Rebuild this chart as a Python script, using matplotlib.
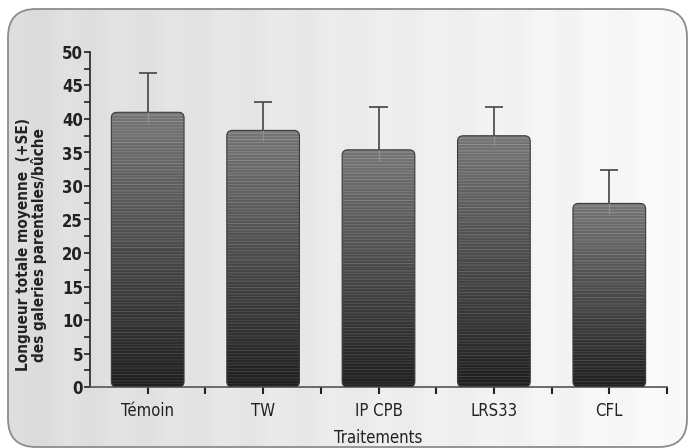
import numpy as np
import matplotlib
matplotlib.use("Agg")
from matplotlib import pyplot as plt
from matplotlib import font_manager
from matplotlib.patches import FancyBboxPatch

# data
traitements = ['Témoin', 'TW', 'IP CPB', 'LRS33', 'CFL']
moyennes = [41.0, 38.3, 35.4, 37.5, 27.4]
se = [5.9, 4.3, 6.4, 4.3, 5.0]

# look for a condensed face (e.g. DejaVu Sans Condensed)
narrow = None
for f in font_manager.fontManager.ttflist:
    if str(f.stretch) == 'condensed' and f.style == 'normal':
        narrow = f.name
        break
if narrow is not None:
    plt.rcParams['font.family'] = [narrow, 'DejaVu Sans']
    plt.rcParams['font.stretch'] = 'condensed'
    big, lab = 12, 11
else:
    plt.rcParams['font.family'] = ['Liberation Sans', 'DejaVu Sans']
    big, lab = 11.5, 10

fig = plt.figure(figsize=(6.88, 4.48), dpi=100)

# rounded grey panel behind everything
bg = fig.add_axes([0, 0, 1, 1])
bg.set_xlim(0, 688)
bg.set_ylim(448, 0)
bg.axis('off')
panel = FancyBboxPatch((8, 9), 679, 438, boxstyle='round,pad=0,rounding_size=28',
                       facecolor='none', edgecolor='#8c8c8c', lw=1.3, zorder=3)
bg.add_patch(panel)
xs = np.linspace(0, 1, 688)
row = np.clip(0.86 + 0.12 * xs + 0.008 * np.sin(xs * 2 * np.pi * 13), 0, 1)
im = bg.imshow(np.tile(row, (10, 1)), cmap='gray', vmin=0, vmax=1,
               extent=[0, 688, 448, 0], aspect='auto', zorder=1)
im.set_clip_path(panel)

ax = fig.add_axes([90 / 688, 61 / 448, 577 / 688, 335 / 448])
ax.patch.set_alpha(0)
ax.set_xlim(-0.5, 4.5)
ax.set_ylim(0, 50)

x = np.arange(len(traitements))
w = 0.63
px_y = 335 / 50.0
for xi, m in zip(x, moyennes):
    bar = FancyBboxPatch((xi - w / 2, 0), w, m,
                         boxstyle='round,pad=0,rounding_size=0.05',
                         mutation_aspect=0.8 / 0.05,
                         facecolor='none', edgecolor='#3a3a3a', lw=0.8, zorder=3)
    ax.add_patch(bar)
    n = max(int(m * px_y), 2)
    t = np.linspace(1, 0, n)  # top -> bottom
    col = 0.12 + 0.34 * t
    k = np.arange(n)
    col = col + np.where(k % 3 == 0, 0.07, 0) + np.where(k % 7 == 2, 0.04, 0)
    g = np.clip(col, 0, 1)[:, None] * np.ones((1, 4))
    bim = ax.imshow(g, cmap='gray', vmin=0, vmax=1,
                    extent=[xi - w / 2, xi + w / 2, 0, m],
                    aspect='auto', interpolation='nearest', zorder=2)
    bim.set_clip_path(bar)

tops = np.array(moyennes) + np.array(se)
ax.vlines(x, moyennes, tops, color='#444444', lw=1.2, zorder=4)
ax.hlines(tops, x - 0.078, x + 0.078, color='#444444', lw=1.2, zorder=4)
ax.vlines(x, np.array(moyennes) - 1.6, moyennes, color='#8f8f8f', lw=1.0, zorder=4)

for s in ['top', 'right']:
    ax.spines[s].set_visible(False)
ax.spines['left'].set_linewidth(1.2)
ax.spines['bottom'].set_linewidth(1.2)
ax.spines['left'].set_color('#222222')
ax.spines['bottom'].set_color('#555555')

ax.set_yticks(np.arange(0, 51, 5))
ax.set_yticks(np.arange(2.5, 50, 5), minor=True)
ax.tick_params(axis='y', which='both', length=4, width=1.2, color='#222222',
               labelsize=big, labelcolor='#222222', pad=1)
for t_ in ax.get_yticklabels():
    t_.set_fontweight('bold')

ax.set_xticks(x)
ax.set_xticks(np.arange(0.5, 5, 1), minor=True)
ax.set_xticklabels(traitements)
ax.tick_params(axis='x', which='both', length=5, width=1.5, color='#222222',
               labelsize=big, labelcolor='#222222', pad=6)

ax.set_xlabel('Traitements', fontsize=big, color='#222222', labelpad=6)
ax.set_ylabel('Longueur totale moyenne  (+SE)\ndes galeries parentales/bûche',
              fontsize=lab, fontweight='bold', color='#222222',
              linespacing=1.0)
ax.yaxis.set_label_coords(-0.075, 0.424)

fig.savefig('out.png', dpi=100)
